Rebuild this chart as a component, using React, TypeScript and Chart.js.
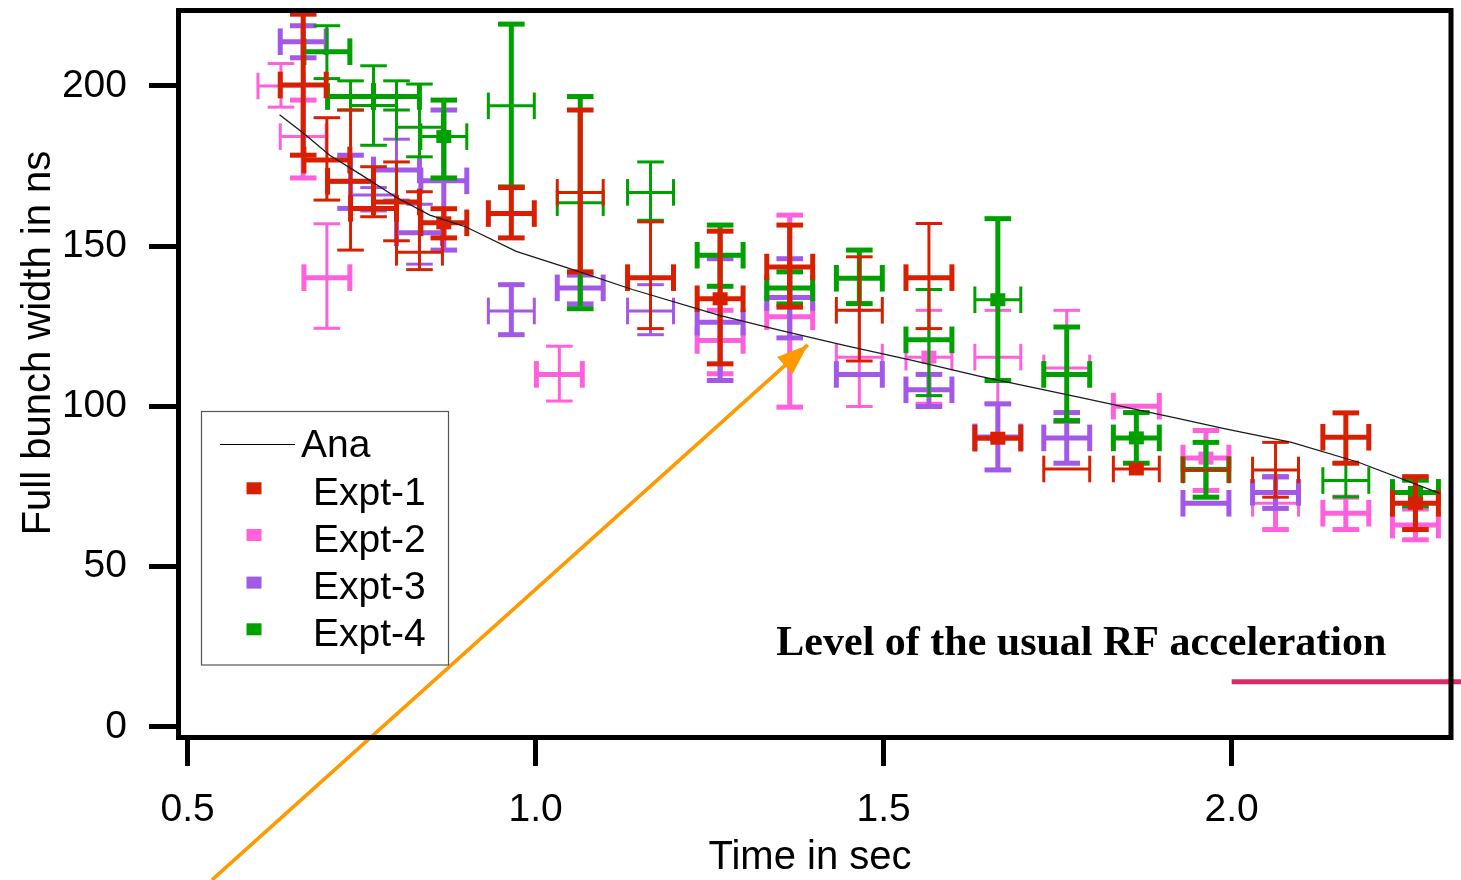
import React, { useEffect, useRef } from 'react';
import { Chart, registerables } from 'chart.js';

Chart.register(...registerables);

// ---------- axes ----------
const X_TICKS = [0.5, 1.0, 1.5, 2.0];
const Y_TICKS = [0, 50, 100, 150, 200];
const X_MIN = 0.4868;
const X_MAX = 2.3151;
const Y_MIN = -3.28;
const Y_MAX = 223.55;

// half width of the time error bars (s)
const TIME_HALF_ERR = 0.033;

// ---------- analytic curve ----------
const ANA_TIME = [0.632, 0.666, 0.704, 0.75, 0.8, 0.848, 0.9, 0.972, 1.049, 1.139, 1.264, 1.35, 1.445, 1.541, 1.637, 1.78, 1.924, 1.991, 2.086, 2.182, 2.299];
const ANA_WIDTH = [191, 185.3, 178.4, 172.2, 165.2, 159.7, 156, 148.4, 143, 136.5, 128.4, 123.8, 119, 114.4, 109.5, 102.9, 96.2, 93, 88.8, 82.6, 72.9];

// ---------- Expt-1 ----------
const EXPT1_TIME = [0.666, 0.7, 0.734, 0.767, 0.8, 0.833, 0.868, 0.965, 1.064, 1.165, 1.265, 1.365, 1.465, 1.565, 1.664, 1.763, 1.863, 1.963, 2.063, 2.164, 2.264];
const EXPT1_WIDTH = [200.3, 176.9, 170.3, 161.8, 163.8, 148.1, 157.3, 160.2, 166.8, 140.2, 133.6, 143.5, 130.0, 140.2, 90.1, 80.5, 80.5, 80.2, 80.2, 90.4, 69.8];
const EXPT1_LOW = [178.4, 164.4, 148.8, 159.2, 151.7, 142.7, 152.6, 152.6, 142.0, 124.3, 113.3, 131.0, 114.2, 124.3, 90.1, 80.5, 80.5, 80.2, 71.7, 82.3, 61.6];
const EXPT1_HIGH = [222.4, 190.1, 192.5, 174.8, 176.3, 167.0, 161.7, 168.3, 192.5, 157.6, 154.7, 156.6, 146.7, 157.1, 90.1, 80.5, 80.5, 80.2, 88.8, 98.0, 78.1];
const EXPT1_XBAR_LW = [5, 5, 5, 5, 5, 3, 5, 5, 3, 5, 5, 5, 3, 5, 5, 3, 3, 3, 3, 5, 5];
const EXPT1_YBAR_LW = [5, 3, 3, 3, 3, 3, 5, 5, 5, 3, 5, 5, 3, 3, 5, 3, 3, 3, 3, 5, 5];
const EXPT1_MARKER = [0, 0, 0, 0, 0, 0, 1, 0, 0, 0, 1, 0, 0, 0, 1, 0, 1, 0, 0, 0, 1];

// ---------- Expt-2 ----------
const EXPT2_TIME = [0.634, 0.666, 0.7, 1.034, 1.265, 1.365, 1.465, 1.565, 1.664, 1.763, 1.863, 1.963, 2.063, 2.164, 2.264];
const EXPT2_WIDTH = [200.0, 184.2, 140.2, 110.0, 120.6, 128.0, 115.4, 115.4, 115.4, 112.0, 100.1, 83.9, 69.8, 66.7, 63.0];
const EXPT2_LOW = [193.4, 171.3, 124.4, 101.7, 110.2, 99.8, 100.0, 101.0, 101.0, 95.0, 100.1, 73.8, 61.6, 61.6, 58.4];
const EXPT2_HIGH = [207.0, 195.6, 157.0, 118.8, 130.0, 159.7, 130.0, 130.0, 130.0, 130.0, 100.1, 92.5, 78.0, 71.7, 68.0];
const EXPT2_XBAR_LW = [3, 3, 5, 5, 5, 5, 3, 3, 3, 3, 5, 5, 3, 5, 5];
const EXPT2_YBAR_LW = [3, 5, 3, 3, 5, 5, 3, 3, 3, 3, 3, 5, 5, 5, 5];
const EXPT2_MARKER = [0, 0, 0, 0, 0, 0, 0, 1, 0, 0, 0, 1, 0, 0, 0];

// ---------- Expt-3 ----------
const EXPT3_TIME = [0.666, 0.734, 0.767, 0.8, 0.833, 0.868, 0.965, 1.064, 1.165, 1.265, 1.365, 1.465, 1.565, 1.664, 1.763, 1.963, 2.063];
const EXPT3_WIDTH = [213.8, 170.0, 166.0, 173.8, 154.2, 170.4, 129.8, 137.0, 129.8, 126.3, 134.0, 110.0, 105.2, 90.5, 90.2, 69.8, 73.2];
const EXPT3_LOW = [208.8, 161.8, 161.0, 164.4, 144.4, 148.8, 122.4, 132.0, 122.4, 108.1, 121.4, 110.0, 100.0, 80.2, 82.3, 69.8, 68.2];
const EXPT3_HIGH = [218.8, 178.4, 168.3, 183.4, 163.1, 192.5, 138.0, 141.0, 138.0, 146.1, 146.1, 110.0, 110.0, 100.8, 98.1, 69.8, 78.1];
const EXPT3_XBAR_LW = [5, 3, 3, 5, 5, 5, 3, 5, 3, 5, 5, 5, 5, 5, 5, 5, 5];
const EXPT3_YBAR_LW = [5, 5, 3, 3, 3, 5, 5, 5, 3, 5, 5, 5, 5, 5, 5, 5, 5];
const EXPT3_MARKER = [0, 0, 0, 0, 0, 0, 0, 0, 0, 0, 0, 0, 0, 0, 0, 0, 0];

// ---------- Expt-4 ----------
const EXPT4_TIME = [0.7, 0.734, 0.767, 0.8, 0.833, 0.868, 0.965, 1.064, 1.165, 1.265, 1.365, 1.465, 1.565, 1.664, 1.763, 1.863, 1.963, 2.164, 2.264];
const EXPT4_WIDTH = [210.7, 196.7, 193.9, 196.7, 187.1, 184.2, 193.8, 163.6, 166.8, 147.2, 137.0, 140.0, 120.8, 133.3, 110.0, 90.2, 80.3, 76.9, 73.2];
const EXPT4_LOW = [202.3, 192.5, 181.5, 192.5, 177.9, 171.3, 168.5, 130.5, 158.1, 137.5, 132.0, 132.1, 103.4, 108.1, 95.6, 82.3, 71.7, 71.8, 69.0];
const EXPT4_HIGH = [218.8, 201.6, 206.3, 201.6, 200.6, 195.6, 219.3, 196.7, 176.3, 156.6, 142.0, 148.8, 136.5, 158.6, 124.8, 98.1, 88.8, 82.3, 77.0];
const EXPT4_XBAR_LW = [5, 5, 3, 5, 3, 3, 3, 3, 3, 5, 5, 5, 5, 3, 5, 5, 5, 3, 5];
const EXPT4_YBAR_LW = [3, 3, 3, 3, 3, 5, 5, 5, 3, 5, 5, 5, 3, 5, 5, 5, 5, 3, 5];
const EXPT4_MARKER = [0, 0, 0, 0, 0, 1, 0, 0, 0, 0, 0, 0, 0, 1, 0, 1, 0, 0, 1];

// ---------- annotations ----------
const RF_LEVEL_TIME = [2.0, 2.33];
const RF_LEVEL_WIDTH = [14.1, 14.1];
const ARROW_TIME = [0.535, 1.391];
const ARROW_WIDTH = [-47.7, 119.2];
const LEVEL_LABEL = 'Level of the usual RF acceleration';
const LEVEL_LABEL_AT = { x: 1.784, y: 22.5 };

const X_TITLE = 'Time in sec';
const Y_TITLE = 'Full bunch width in ns';

const RED = '#d82000';
const PINK = '#ff60dc';
const PURPLE = '#a259e8';
const GREEN = '#00a000';
const RF_COLOR = '#d92a63';
const ORANGE = '#ff9900';

const SANS = "'Liberation Sans', Arial, Helvetica, sans-serif";
const SERIF = "'Liberation Serif', 'Times New Roman', serif";

type Series = {
  label: string;
  color: string;
  time: number[];
  width: number[];
  low: number[];
  high: number[];
  xlw: number[];
  ylw: number[];
  marker: number[];
};

const SERIES: Series[] = [
  { label: 'Expt-1', color: RED, time: EXPT1_TIME, width: EXPT1_WIDTH, low: EXPT1_LOW, high: EXPT1_HIGH, xlw: EXPT1_XBAR_LW, ylw: EXPT1_YBAR_LW, marker: EXPT1_MARKER },
  { label: 'Expt-2', color: PINK, time: EXPT2_TIME, width: EXPT2_WIDTH, low: EXPT2_LOW, high: EXPT2_HIGH, xlw: EXPT2_XBAR_LW, ylw: EXPT2_YBAR_LW, marker: EXPT2_MARKER },
  { label: 'Expt-3', color: PURPLE, time: EXPT3_TIME, width: EXPT3_WIDTH, low: EXPT3_LOW, high: EXPT3_HIGH, xlw: EXPT3_XBAR_LW, ylw: EXPT3_YBAR_LW, marker: EXPT3_MARKER },
  { label: 'Expt-4', color: GREEN, time: EXPT4_TIME, width: EXPT4_WIDTH, low: EXPT4_LOW, high: EXPT4_HIGH, xlw: EXPT4_XBAR_LW, ylw: EXPT4_YBAR_LW, marker: EXPT4_MARKER },
];

// draw order bottom -> top
const DRAW_ORDER = ['Expt-2', 'Expt-3', 'Expt-4', 'Expt-1'];

const CAP_HALF = 13.3;

function seg(ctx: CanvasRenderingContext2D, x1: number, y1: number, x2: number, y2: number, lw: number) {
  ctx.lineWidth = lw;
  ctx.beginPath();
  ctx.moveTo(x1, y1);
  ctx.lineTo(x2, y2);
  ctx.stroke();
}

const errorBarPlugin = {
  id: 'errorBars',
  beforeDatasetsDraw(chart: any) {
    const ctx: CanvasRenderingContext2D = chart.ctx;
    const xs = chart.scales.x;
    const ys = chart.scales.y;
    ctx.save();
    ctx.lineCap = 'butt';
    DRAW_ORDER.forEach((name) => {
      const s = SERIES.find((q) => q.label === name)!;
      ctx.strokeStyle = s.color;
      ctx.fillStyle = s.color;
      s.time.forEach((t, i) => {
        const px = xs.getPixelForValue(t);
        const py = ys.getPixelForValue(s.width[i]);
        const pxLo = xs.getPixelForValue(t - TIME_HALF_ERR);
        const pxHi = xs.getPixelForValue(t + TIME_HALF_ERR);
        if (s.high[i] - s.low[i] > 0.5) {
          const pyLo = ys.getPixelForValue(s.low[i]);
          const pyHi = ys.getPixelForValue(s.high[i]);
          const lw = s.ylw[i];
          seg(ctx, px, pyHi, px, pyLo, lw);
          seg(ctx, px - CAP_HALF, pyHi, px + CAP_HALF, pyHi, lw);
          seg(ctx, px - CAP_HALF, pyLo, px + CAP_HALF, pyLo, lw);
        }
        const lw2 = s.xlw[i];
        seg(ctx, pxLo, py, pxHi, py, lw2);
        seg(ctx, pxLo, py - CAP_HALF, pxLo, py + CAP_HALF, lw2);
        seg(ctx, pxHi, py - CAP_HALF, pxHi, py + CAP_HALF, lw2);
        if (s.marker[i]) {
          ctx.fillRect(px - 7.5, py - 6.5, 15, 13);
        }
      });
    });
    ctx.restore();
  },
  afterDatasetsDraw(chart: any) {
    // arrow head
    const ctx: CanvasRenderingContext2D = chart.ctx;
    const xs = chart.scales.x;
    const ys = chart.scales.y;
    const x0 = xs.getPixelForValue(ARROW_TIME[0]);
    const y0 = ys.getPixelForValue(ARROW_WIDTH[0]);
    const x1 = xs.getPixelForValue(ARROW_TIME[1]);
    const y1 = ys.getPixelForValue(ARROW_WIDTH[1]);
    const len = Math.hypot(x1 - x0, y1 - y0);
    const ux = (x1 - x0) / len;
    const uy = (y1 - y0) / len;
    const bx = x1 - ux * 31;
    const by = y1 - uy * 31;
    ctx.save();
    ctx.fillStyle = ORANGE;
    ctx.beginPath();
    ctx.moveTo(x1, y1);
    ctx.lineTo(bx - uy * 11.5, by + ux * 11.5);
    ctx.lineTo(bx + uy * 11.5, by - ux * 11.5);
    ctx.closePath();
    ctx.fill();
    ctx.restore();
  },
  afterDraw(chart: any) {
    const ctx: CanvasRenderingContext2D = chart.ctx;
    const a = chart.chartArea;
    const xs = chart.scales.x;
    const ys = chart.scales.y;
    ctx.save();
    // frame
    ctx.strokeStyle = '#000';
    ctx.lineWidth = 5;
    ctx.lineJoin = 'miter';
    ctx.strokeRect(a.left, a.top, a.right - a.left, a.bottom - a.top);

    // axis titles
    ctx.fillStyle = '#000';
    ctx.font = `40px ${SANS}`;
    ctx.textAlign = 'center';
    ctx.textBaseline = 'alphabetic';
    ctx.fillText(X_TITLE, 810, 869);
    ctx.save();
    ctx.translate(50, 343);
    ctx.rotate(-Math.PI / 2);
    ctx.fillText(Y_TITLE, 0, 0);
    ctx.restore();

    // level label
    ctx.font = `bold 42px ${SERIF}`;
    ctx.textAlign = 'center';
    ctx.fillText(LEVEL_LABEL, xs.getPixelForValue(LEVEL_LABEL_AT.x), ys.getPixelForValue(LEVEL_LABEL_AT.y));

    // legend
    ctx.fillStyle = '#fff';
    ctx.fillRect(201.5, 411.5, 247, 253.5);
    ctx.strokeStyle = '#555';
    ctx.lineWidth = 1.2;
    ctx.strokeRect(201.5, 411.5, 247, 253.5);
    ctx.strokeStyle = '#000';
    ctx.lineWidth = 1.2;
    ctx.beginPath();
    ctx.moveTo(220, 444.5);
    ctx.lineTo(295, 444.5);
    ctx.stroke();
    ctx.fillStyle = '#000';
    ctx.font = `39px ${SANS}`;
    ctx.textAlign = 'left';
    ctx.fillText('Ana', 301, 457);
    const rows = [505, 551.7, 599.3, 646];
    SERIES.forEach((s, i) => {
      ctx.fillStyle = s.color;
      ctx.fillRect(246.5, rows[i] - 22.7, 15, 12);
      ctx.fillStyle = '#000';
      ctx.fillText(s.label, 313, rows[i]);
    });
    ctx.restore();
  },
};

export default function App() {
  const ref = useRef<HTMLCanvasElement | null>(null);

  useEffect(() => {
    if (!ref.current) return;
    Chart.defaults.font.family = SANS;
    const chart = new Chart(ref.current, {
      type: 'scatter',
      data: {
        datasets: [
          {
            label: 'arrow',
            data: ARROW_TIME.map((t, i) => ({ x: t, y: ARROW_WIDTH[i] })),
            showLine: true,
            borderColor: ORANGE,
            borderWidth: 3.6,
            pointRadius: 0,
            clip: false as any,
          },
          {
            label: 'Ana',
            data: ANA_TIME.map((t, i) => ({ x: t, y: ANA_WIDTH[i] })),
            showLine: true,
            borderColor: '#1a1a1a',
            borderWidth: 1.3,
            pointRadius: 0,
          },
          {
            label: 'RF level',
            data: RF_LEVEL_TIME.map((t, i) => ({ x: t, y: RF_LEVEL_WIDTH[i] })),
            showLine: true,
            borderColor: RF_COLOR,
            borderWidth: 5,
            pointRadius: 0,
            clip: false as any,
          },
          ...SERIES.map((s) => ({
            label: s.label,
            data: s.time.map((t, i) => ({ x: t, y: s.width[i] })),
            pointRadius: 0,
            borderColor: s.color,
            backgroundColor: s.color,
          })),
        ],
      },
      options: {
        responsive: false,
        devicePixelRatio: 1,
        animation: false,
        events: [],
        layout: { padding: { left: 0, right: 10, top: 10.5, bottom: 0 } },
        plugins: {
          legend: { display: false },
          tooltip: { enabled: false },
        },
        scales: {
          x: {
            type: 'linear',
            min: X_MIN,
            max: X_MAX,
            afterFit: (scale: any) => {
              scale.height = 142.5;
              scale.paddingLeft = 0;
              scale.paddingRight = 0;
              scale.paddingTop = 0;
              scale.paddingBottom = 0;
            },
            afterBuildTicks: (scale: any) => {
              scale.ticks = X_TICKS.map((v) => ({ value: v }));
            },
            border: { display: false },
            grid: {
              display: true,
              drawOnChartArea: false,
              drawTicks: true,
              tickLength: 28.5,
              tickWidth: 5,
              tickColor: '#000',
            },
            ticks: {
              color: '#000',
              font: { size: 39, family: SANS },
              padding: 21,
              maxRotation: 0,
              autoSkip: false,
              callback: (v: any) => Number(v).toFixed(1),
            },
          },
          y: {
            type: 'linear',
            min: Y_MIN,
            max: Y_MAX,
            afterFit: (scale: any) => {
              scale.width = 178.5;
              scale.paddingLeft = 0;
              scale.paddingRight = 0;
              scale.paddingTop = 0;
              scale.paddingBottom = 0;
            },
            afterBuildTicks: (scale: any) => {
              scale.ticks = Y_TICKS.map((v) => ({ value: v }));
            },
            border: { display: false },
            grid: {
              display: true,
              drawOnChartArea: false,
              drawTicks: true,
              tickLength: 29.5,
              tickWidth: 5,
              tickColor: '#000',
            },
            ticks: {
              color: '#000',
              font: { size: 39, family: SANS },
              padding: 22,
              autoSkip: false,
              callback: (v: any) => String(v),
            },
          },
        },
      },
      plugins: [errorBarPlugin],
    });
    return () => chart.destroy();
  }, []);

  return (
    <div style={{ position: 'fixed', left: 0, top: 0, width: 1461, height: 880, background: '#fff' }}>
      <canvas ref={ref} width={1461} height={880} style={{ display: 'block', width: 1461, height: 880 }} />
    </div>
  );
}
